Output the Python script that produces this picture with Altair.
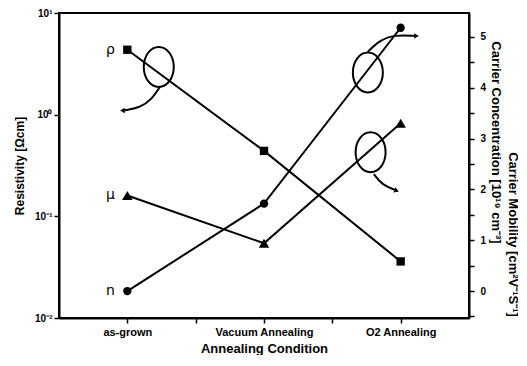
import altair as alt
import pandas as pd

categories = ["as-grown", "Vacuum Annealing", "O2 Annealing"]
xpos = [0, 1, 2]
rho = [4.35, 0.44, 0.036]          # Resistivity [Ohm cm], left log axis
n_conc = [0.0, 1.72, 5.18]         # Carrier concentration [1e19 cm^-3], right axis
mobility = [1.88, 0.94, 3.30]      # Carrier mobility, right axis

# annotation ellipses (x index units, right-axis units)
ell_x = [0.23, 1.76, 1.78]
ell_y = [4.41, 4.30, 2.73]
# curved arrows
arr_id = [1, 1, 1, 1, 2, 2, 2, 2, 3, 3, 3]
arr_x = [0.239, 0.18, 0.093, -0.025, 1.76, 1.848, 1.958, 2.104, 1.804, 1.863, 1.958]
arr_y = [4.02, 3.77, 3.61, 3.55, 4.71, 4.94, 5.04, 5.02, 2.30, 2.09, 1.99]
head_x = [-0.03, 2.11, 1.965]
head_y = [3.55, 5.02, 1.98]
head_angle = [270, 90, 110]

series_labels = ["ρ", "μ", "n"]

df_rho = pd.DataFrame({"x": xpos, "v": rho})
df_n = pd.DataFrame({"x": xpos, "v": n_conc})
df_mu = pd.DataFrame({"x": xpos, "v": mobility})
df_ell = pd.DataFrame({"x": ell_x, "v": ell_y})
df_arr = pd.DataFrame({"id": arr_id, "x": arr_x, "v": arr_y, "o": list(range(len(arr_x)))})
df_head = pd.DataFrame({"x": head_x, "v": head_y, "a": head_angle})
df_lab_rho = pd.DataFrame({"x": [0], "v": [rho[0]], "t": [series_labels[0]]})
df_lab_r = pd.DataFrame({"x": [0, 0], "v": [mobility[0], n_conc[0]], "t": series_labels[1:]})

lab_expr = ("datum.value == 0 ? '" + categories[0] + "' : datum.value == 1 ? '" + categories[1] +
            "' : datum.value == 2 ? '" + categories[2] + "' : ''")
X = alt.X("x:Q", scale=alt.Scale(domain=[-0.5, 2.5], nice=False, zero=False),
          axis=alt.Axis(values=[0, 0.5, 1, 1.5, 2], labelExpr=lab_expr, grid=False,
                        title="Annealing Condition", labelFontSize=11, titleFontSize=13,
                        labelPadding=3, titlePadding=5, tickSize=5, labelFlush=False))

YL = alt.Y("v:Q", scale=alt.Scale(type="log", domain=[0.01, 10], nice=False),
           axis=alt.Axis(values=[0.01, 0.1, 1, 10], grid=False, orient="left",
                         labelExpr="datum.value >= 10 ? '10¹' : datum.value >= 1 ? '10⁰' : datum.value >= 0.1 ? '10⁻¹' : '10⁻²'",
                         title="Resistivity [Ωcm]", titleFontSize=12, labelFontSize=10,
                         tickSize=5, labelPadding=2, titlePadding=8))

YR = alt.Y("v:Q", scale=alt.Scale(domain=[-0.53, 5.47], nice=False, zero=False),
           axis=alt.Axis(values=[-0.5, 0, 0.5, 1, 1.5, 2, 2.5, 3, 3.5, 4, 4.5, 5], grid=False, orient="right",
                         labelExpr="datum.value % 1 == 0 ? format(datum.value, 'd') : ''",
                         title="Carrier Concentration [10¹⁹ cm⁻³]", titleY=129,
                         titleFontSize=13, labelFontSize=10, tickSize=5, labelPadding=6,
                         titlePadding=3))

YM = alt.Y("v:Q", scale=alt.Scale(domain=[-0.53, 5.47], nice=False, zero=False),
           axis=alt.Axis(grid=False, orient="right", domain=False, ticks=False, labels=False,
                         title="Carrier Mobility [cm²V⁻¹S⁻¹]", titleY=221,
                         titleFontSize=13, titlePadding=0, offset=36))

left = alt.layer(
    alt.Chart(df_rho).mark_line(color="black", strokeWidth=2).encode(x=X, y=YL),
    alt.Chart(df_rho).mark_point(shape="square", filled=True, color="black", size=70, opacity=1).encode(x=X, y=YL),
    alt.Chart(df_lab_rho).mark_text(dx=-17, fontSize=14, font="DejaVu Sans", color="black").encode(x=X, y=YL, text="t:N"),
)

ellipse = "M0,-1A0.75,1,0,1,1,0,1A0.75,1,0,1,1,0,-1Z"
right = alt.layer(
    alt.Chart(df_n).mark_line(color="black", strokeWidth=2).encode(x=X, y=YR),
    alt.Chart(df_mu).mark_line(color="black", strokeWidth=2).encode(x=X, y=YR),
    alt.Chart(df_n).mark_point(shape="circle", filled=True, color="black", size=70, opacity=1).encode(x=X, y=YR),
    alt.Chart(df_mu).mark_point(shape="triangle-up", filled=True, color="black", size=110, opacity=1).encode(x=X, y=YR),
    alt.Chart(df_lab_r).mark_text(dx=-17, fontSize=14, font="DejaVu Sans", color="black").encode(x=X, y=YR, text="t:N"),
    alt.Chart(df_ell).mark_point(shape=ellipse, filled=False, color="black", size=1600, strokeWidth=2, opacity=1).encode(x=X, y=YR),
    alt.Chart(df_arr).mark_line(color="black", strokeWidth=2, interpolate="basis").encode(x=X, y=YR, detail="id:N", order="o:Q"),
    alt.Chart(df_head).mark_point(shape="triangle", filled=True, color="black", size=30, opacity=1).encode(x=X, y=YR, angle=alt.Angle("a:Q", scale=None)),
)

mob_axis = alt.Chart(df_mu).mark_line(opacity=0).encode(x=X, y=YM)

chart = alt.layer(left, right, mob_axis).resolve_scale(y="independent").properties(
    width=410, height=305, padding={"left": 5, "top": 0, "right": 0, "bottom": 0}
).configure_view(stroke="black", strokeWidth=2).configure_axis(
    labelFont="Liberation Sans", titleFont="Liberation Sans", labelFontWeight="bold",
    titleFontWeight="bold", labelColor="black", titleColor="black", domainColor="black",
    domainWidth=2, tickColor="black", tickWidth=1.5
)

chart.save("out.html", embed_options={"renderer": "svg", "actions": False})
